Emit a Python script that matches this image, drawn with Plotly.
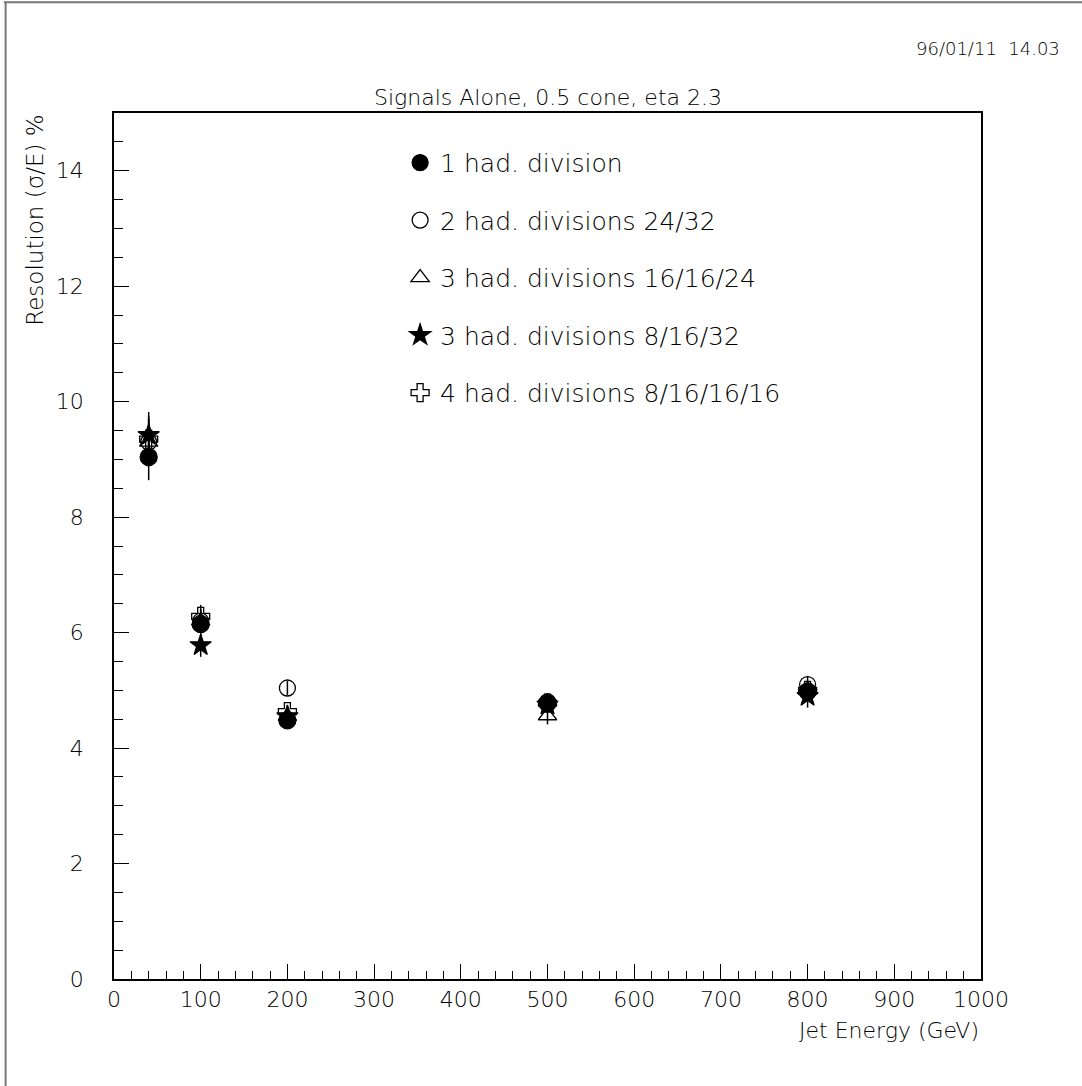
import plotly.graph_objects as go

energy = [40, 100, 200, 500, 800]

names = [
    "1 had. division",
    "2 had. divisions 24/32",
    "3 had. divisions 16/16/24",
    "3 had. divisions 8/16/32",
    "4 had. divisions 8/16/16/16",
]
res_1div = [9.04, 6.15, 4.48, 4.78, 4.98]
res_2div = [9.30, 6.20, 5.04, 4.80, 5.10]
res_3div_a = [9.30, 6.20, 4.55, 4.56, 5.00]
res_3div_b = [9.42, 5.78, 4.55, 4.75, 4.90]
res_4div = [9.35, 6.28, 4.63, 4.78, 5.00]

err_1div = [0.40, 0.20, 0.12, 0.15, 0.15]
err_2div = [0.40, 0.20, 0.12, 0.15, 0.15]
err_3div_a = [0.40, 0.20, 0.12, 0.15, 0.15]
err_3div_b = [0.40, 0.20, 0.12, 0.15, 0.20]
err_4div = [0.40, 0.20, 0.12, 0.15, 0.15]

FONT = "DejaVu Sans"
W = 200
INK = "#000"

series = [
    # values, errors, symbol, size, legend rank
    (res_2div, err_2div, "circle-open", 16, 2),
    (res_3div_a, err_3div_a, "triangle-up-open", 16, 3),
    (res_4div, err_4div, "cross-open", 15, 5),
    (res_3div_b, err_3div_b, "star", 16, 4),
    (res_1div, err_1div, "circle", 17, 1),
]

fig = go.Figure()
for vals, errs, sym, size, rank in series:
    fig.add_trace(go.Scatter(
        x=energy, y=vals, mode="markers", name=names[rank - 1],
        legendrank=rank, legendgroup=str(rank),
        marker=dict(symbol=sym, size=size, color="black",
                    line=dict(color="black", width=1.3)),
        error_y=dict(type="data", array=errs, visible=True,
                     color="black", thickness=1.5, width=0),
    ))

axis_common = dict(
    showgrid=False, zeroline=False, showline=True, linecolor="black",
    linewidth=1.5, mirror=True, ticks="inside", tickcolor="black",
    tickwidth=1.2, ticklen=15,
    tickfont=dict(family=FONT, size=22, color=INK, weight=W),
)

fig.update_xaxes(
    range=[0, 1000], dtick=100, tick0=0, ticklabelstandoff=0,
    minor=dict(dtick=20, ticks="inside", ticklen=8, tickcolor="black", tickwidth=1.2),
    title=None, **axis_common,
)
fig.update_yaxes(
    range=[0, 15], dtick=2, tick0=0, ticklabelstandoff=24,
    minor=dict(dtick=0.5, ticks="inside", ticklen=9, tickcolor="black", tickwidth=1.2),
    title=None, **axis_common,
)

fig.update_layout(
    width=1082, height=1086,
    margin=dict(l=114, r=101, t=113, b=107),
    paper_bgcolor="white", plot_bgcolor="white",
    font=dict(family=FONT, color=INK, weight=W),
    showlegend=True,
    legend=dict(
        x=0.33, y=0.969, xanchor="left", yanchor="top",
        bgcolor="rgba(0,0,0,0)", traceorder="grouped",
        tracegroupgap=22, itemsizing="trace",
        font=dict(family=FONT, size=25, color=INK, weight=W),
    ),
    annotations=[
        dict(text="96/01/11  14.03", xref="paper", yref="paper",
             x=1.094, y=1.075, xanchor="right", yanchor="middle",
             showarrow=False, font=dict(family=FONT, size=18, color=INK, weight=W)),
        dict(text="Signals Alone, 0.5 cone, eta 2.3", xref="paper", yref="paper",
             x=0.5, y=1.018, xanchor="center", yanchor="middle",
             showarrow=False, font=dict(family=FONT, size=22, color=INK, weight=W)),
        dict(text="Jet Energy (GeV)", xref="paper", yref="paper",
             x=1.0, y=-0.059, xanchor="right", yanchor="middle",
             showarrow=False, font=dict(family=FONT, size=22, color=INK, weight=W)),
        dict(text="Resolution (σ/E) %", xref="paper", yref="paper",
             x=-0.092, y=1.0, xanchor="center", yanchor="top", textangle=-90,
             showarrow=False, font=dict(family=FONT, size=23, color=INK, weight=W)),
    ],
    shapes=[
        dict(type="line", xref="paper", yref="paper",
             x0=-0.127, x1=1.12, y0=1.128, y1=1.128,
             line=dict(color="#777", width=2)),
        dict(type="line", xref="paper", yref="paper",
             x0=-0.125, x1=-0.125, y0=1.128, y1=-0.13,
             line=dict(color="#777", width=2)),
    ],
)

fig.write_html("out.html")
